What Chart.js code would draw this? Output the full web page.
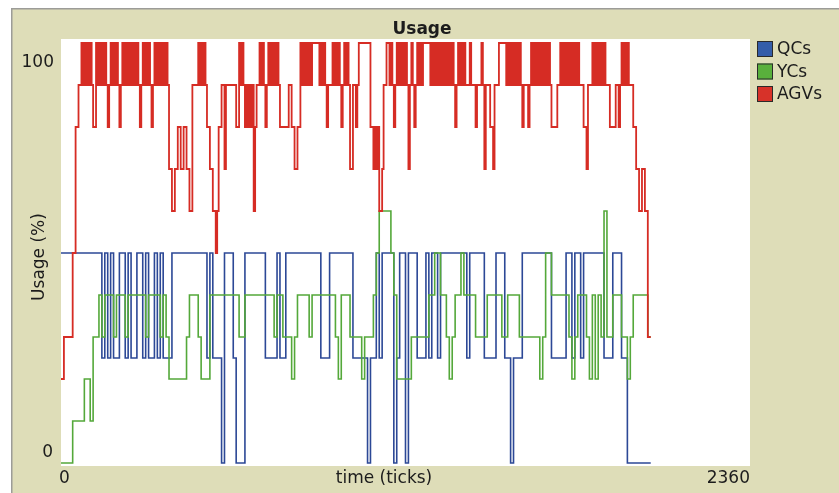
<!DOCTYPE html>
<html>
<head>
<meta charset="utf-8">
<script src="https://cdn.jsdelivr.net/npm/chart.js@4/dist/chart.umd.min.js"></script>
<style>
  html, body { margin: 0; padding: 0; background: #ffffff; }
  #wrap { width: 839px; height: 493px; }
</style>
</head>
<body>
<div id="wrap"><canvas id="c" width="839" height="493"></canvas></div>
<script>
// ---- data ----
// QCs and YCs are read every 10 ticks, AGVs every 5 ticks (it switches much faster)
const QC_STEP = 10;
const YC_STEP = 10;
const AGV_STEP = 5;
const seriesNames = ["QCs", "YCs", "AGVs"];
const seriesColors = ["rgb(52,93,169)", "rgb(89,176,60)", "rgb(215,50,41)"];
const seriesLineColors = ["rgb(44,72,150)", "rgb(84,168,58)", "rgb(214,44,36)"];

const qcs = [
  50,50,50,50,50,50,50,50,50,50,
  50,50,50,50,25,50,25,50,25,25,
  50,50,25,50,25,25,50,50,25,50,
  25,25,50,25,50,25,25,25,50,50,
  50,50,50,50,50,50,50,50,50,50,
  25,50,25,25,25,0,50,50,50,25,
  0,0,0,50,50,50,50,50,50,50,
  25,25,25,25,50,25,25,50,50,50,
  50,50,50,50,50,50,50,50,50,25,
  25,25,50,50,50,50,50,50,50,50,
  25,25,25,25,25,0,25,25,50,25,
  50,50,50,50,0,25,50,50,0,50,
  50,50,25,25,25,50,25,50,50,25,
  50,50,50,50,50,50,50,50,50,25,
  50,50,50,50,50,25,25,25,25,50,
  50,50,25,25,0,25,25,25,50,50,
  50,50,50,50,50,50,50,50,25,25,
  25,25,25,50,50,25,50,50,25,50,
  50,50,50,50,50,50,25,25,25,50,
  50,50,25,25,0,0,0,0,0,0,
  0,0,0
];

const ycs = [
  0,0,0,0,10,10,10,10,20,20,
  10,30,30,40,30,40,40,40,30,40,
  40,40,30,40,40,40,40,40,40,30,
  40,40,40,40,30,40,30,20,20,20,
  20,20,20,30,40,40,40,30,20,20,
  20,40,40,40,40,40,40,40,40,40,
  40,30,30,40,40,40,40,40,40,40,
  40,40,40,30,40,40,30,30,30,20,
  30,40,40,40,40,30,40,40,40,40,
  40,40,40,40,30,20,40,40,40,30,
  30,30,30,20,30,30,30,40,50,60,
  60,60,60,50,40,20,20,20,20,20,
  30,30,30,30,30,30,40,40,50,50,
  40,40,30,20,30,40,40,50,40,40,
  40,40,30,30,30,30,40,40,40,40,
  40,30,30,40,40,40,40,30,30,30,
  30,30,30,30,20,30,50,50,40,40,
  40,40,40,40,30,20,30,40,40,40,
  30,20,40,20,40,30,60,30,30,40,
  40,40,30,30,20,30,40,40,40,40,
  40,30,30
];

const agvs = [
  20,20,30,30,30,30,30,30,50,50,80,80,90,90,100,90,100,90,100,90,
  100,90,80,80,100,90,100,90,100,90,100,90,80,90,100,90,100,90,100,90,
  80,90,100,90,100,90,100,90,100,90,100,90,100,90,80,90,100,90,100,90,
  100,90,80,90,100,90,100,90,100,90,100,90,100,90,70,70,60,60,70,70,
  80,80,70,70,80,80,70,70,60,60,90,90,90,90,100,90,100,90,100,90,
  80,80,70,70,60,60,50,60,80,80,90,90,70,90,90,90,90,90,90,90,
  80,80,100,90,100,90,80,90,80,90,80,90,60,80,90,90,100,90,100,90,
  80,90,100,90,100,90,100,90,100,90,80,80,80,80,80,80,90,90,80,80,
  70,70,80,80,100,90,100,90,100,90,100,90,100,100,100,100,100,90,100,90,
  100,90,80,90,90,90,100,90,100,90,100,90,80,90,100,90,100,90,70,70,
  90,90,80,90,100,100,100,100,100,100,100,100,80,80,70,80,70,80,60,60,
  70,90,90,100,100,90,100,90,80,90,100,90,100,90,100,90,100,90,70,90,
  100,90,80,90,100,90,100,90,100,100,100,100,100,90,100,90,100,90,100,90,
  100,90,100,90,100,90,100,90,100,90,80,90,100,90,100,90,100,90,90,90,
  100,90,90,90,80,90,90,90,100,90,70,90,90,90,80,80,70,90,90,90,
  100,100,100,100,100,90,100,90,100,90,100,90,100,90,100,90,80,90,90,90,
  80,90,100,90,100,90,100,90,100,90,100,90,100,90,100,90,80,80,80,80,
  90,90,100,90,100,90,100,90,100,90,100,90,100,90,100,90,90,90,80,80,
  70,90,90,90,100,90,100,90,100,90,100,90,100,90,90,90,80,80,80,80,
  90,90,80,90,100,90,100,90,100,90,90,90,80,80,70,70,60,60,70,70,
  60,60,30,30,30
];

// axis ranges and labels
const xMin = 0, xMax = 2360;
const yMin = 0, yMax = 100;
const xTickLabels = ["0", "2360"];
const yTickLabels = ["0", "100"];
const chartTitle = "Usage";
const xAxisTitle = "time (ticks)";
const yAxisTitle = "Usage (%)";

const KHAKI = "rgb(222,221,184)";
const FONT = '"DejaVu Sans", Verdana, sans-serif';
const TEXT = '#1c1c1c';

function toPoints(arr, step) {
  return arr.map((v, i) => ({ x: i * step, y: v }));
}

const seriesValues = [qcs, ycs, agvs];
const seriesSteps = [QC_STEP, YC_STEP, AGV_STEP];
const seriesWidths = [1.6, 1.6, 1.8];

const netlogoPlugin = {
  id: 'netlogoFrame',
  beforeDraw(chart) {
    const ctx = chart.ctx, a = chart.chartArea;
    const W = chart.width, H = chart.height;
    ctx.save();
    ctx.fillStyle = '#ffffff';
    ctx.fillRect(0, 0, W, H);
    ctx.fillStyle = KHAKI;
    ctx.fillRect(12, 9, W - 12, H - 9);
    ctx.strokeStyle = '#9c9c98';
    ctx.lineWidth = 1.5;
    ctx.beginPath();
    ctx.moveTo(11.75, H);
    ctx.lineTo(11.75, 8.75);
    ctx.lineTo(W, 8.75);
    ctx.stroke();
    ctx.fillStyle = '#ffffff';
    ctx.fillRect(a.left, a.top - 4, a.right - a.left, a.bottom - a.top + 7);
    ctx.restore();
  },
  afterDraw(chart) {
    const ctx = chart.ctx, a = chart.chartArea;
    const xs = chart.scales.x, ys = chart.scales.y;
    ctx.save();
    ctx.fillStyle = TEXT;
    // title
    ctx.font = 'bold 17px ' + FONT;
    ctx.textAlign = 'center';
    ctx.textBaseline = 'middle';
    ctx.fillText(chartTitle, 422, 30);
    // y tick labels
    ctx.font = '17px ' + FONT;
    ctx.textAlign = 'right';
    ctx.fillText(yTickLabels[1], a.left - 7, ys.getPixelForValue(yMax) + 20);
    ctx.fillText(yTickLabels[0], a.left - 8, ys.getPixelForValue(yMin) - 10);
    // x tick labels
    const ly = a.bottom + 16;
    ctx.textAlign = 'left';
    ctx.fillText(xTickLabels[0], xs.getPixelForValue(xMin) - 2, ly);
    ctx.textAlign = 'right';
    ctx.fillText(xTickLabels[1], xs.getPixelForValue(xMax), ly);
    // x axis title
    ctx.textAlign = 'center';
    ctx.fillText(xAxisTitle, 384, ly);
    // y axis title
    ctx.save();
    ctx.translate(40, (a.top + a.bottom) / 2 + 4);
    ctx.rotate(-Math.PI / 2);
    ctx.textAlign = 'center';
    ctx.fillText(yAxisTitle, 0, 0);
    ctx.restore();
    // legend
    chart.data.datasets.forEach((ds, k) => {
      const bx = a.right + 7, by = 41 + k * 22.5;
      ctx.fillStyle = seriesColors[k];
      ctx.fillRect(bx, by, 16, 16);
      ctx.strokeStyle = '#2a2a2a';
      ctx.lineWidth = 1;
      ctx.strokeRect(bx + 0.5, by + 0.5, 15, 15);
      ctx.fillStyle = TEXT;
      ctx.textAlign = 'left';
      ctx.textBaseline = 'middle';
      ctx.fillText(ds.label, bx + 20, by + 9);
    });
    ctx.restore();
  }
};

const datasets = seriesNames.map((name, k) => ({
  label: name,
  data: toPoints(seriesValues[k], seriesSteps[k]),
  borderColor: seriesLineColors[k],
  backgroundColor: seriesColors[k],
  borderWidth: seriesWidths[k],
  pointRadius: 0,
  stepped: true,
  fill: false,
  clip: 4,
  order: 3 - k
}));

new Chart(document.getElementById('c'), {
  type: 'line',
  data: { datasets },
  options: {
    responsive: false,
    devicePixelRatio: 1,
    animation: false,
    layout: { padding: { left: 61, right: 89, top: 43, bottom: 30 } },
    plugins: {
      legend: { display: false },
      title: { display: false },
      tooltip: { enabled: false }
    },
    scales: {
      x: { type: 'linear', min: xMin, max: xMax, display: false },
      y: { type: 'linear', min: yMin, max: yMax, display: false }
    }
  },
  plugins: [netlogoPlugin]
});
</script>
</body>
</html>
